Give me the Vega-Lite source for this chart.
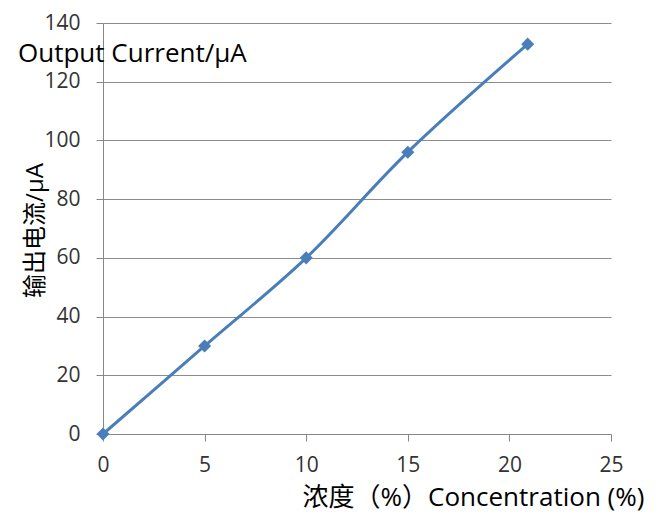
{
  "$schema": "https://vega.github.io/schema/vega-lite/v6.json",
  "width": 508,
  "height": 411,
  "autosize": {"type": "none"},
  "padding": {"left": 103, "top": 23, "right": 50, "bottom": 84},
  "background": "white",
  "title": {
    "text": "Output Current/μA",
    "anchor": "start",
    "frame": "group",
    "orient": "top",
    "font": "Open Sans",
    "fontSize": 26,
    "fontWeight": "normal",
    "color": "#000000",
    "baseline": "alphabetic",
    "dx": -85,
    "dy": 80
  },
  "config": {
    "view": {"stroke": null},
    "font": "Open Sans"
  },
  "data": {
    "values": [
      {"c": 0, "i": 0},
      {"c": 5, "i": 30},
      {"c": 10, "i": 60},
      {"c": 15, "i": 96},
      {"c": 20.9, "i": 132.8}
    ]
  },
  "layer": [
    {
      "mark": {"type": "line", "color": "#4a7ebb", "strokeWidth": 3, "interpolate": "catmull-rom"},
      "encoding": {
        "x": {
          "field": "c", "type": "quantitative",
          "scale": {"domain": [0, 25], "nice": false, "zero": false},
          "axis": {
            "values": [0, 5, 10, 15, 20, 25],
            "grid": false,
            "labelFlush": false,
            "domainColor": "#878787",
            "tickColor": "#878787",
            "tickSize": 7,
            "labelFont": "Open Sans",
            "labelFontSize": 21,
            "labelColor": "#333333",
            "labelPadding": 13,
            "title": "浓度（%）Concentration (%)",
            "titleFont": "Open Sans, Noto Sans CJK SC",
            "titleFontSize": 26,
            "titleFontWeight": "normal",
            "titleColor": "#000000",
            "titleAlign": "center",
            "titleBaseline": "alphabetic",
            "titleX": 370,
            "titleY": 71
          }
        },
        "y": {
          "field": "i", "type": "quantitative",
          "scale": {"domain": [0, 140], "nice": false},
          "axis": {
            "values": [0, 20, 40, 60, 80, 100, 120, 140],
            "grid": true,
            "gridColor": "#8c8c8c",
            "domainColor": "#878787",
            "tickColor": "#878787",
            "tickSize": 7,
            "labelFont": "Open Sans",
            "labelFontSize": 21,
            "labelColor": "#333333",
            "labelPadding": 16,
            "title": "输出电流/μA",
            "titleFont": "Open Sans, Noto Sans CJK SC",
            "titleFontSize": 24,
            "titleFontWeight": "normal",
            "titleColor": "#000000",
            "titleAngle": -90,
            "titleAlign": "center",
            "titleBaseline": "middle",
            "titleX": -68,
            "titleY": 207
          }
        }
      }
    },
    {
      "mark": {"type": "point", "shape": "diamond", "filled": true, "color": "#4a7ebb", "size": 170, "opacity": 1},
      "encoding": {
        "x": {"field": "c", "type": "quantitative"},
        "y": {"field": "i", "type": "quantitative"}
      }
    }
  ]
}
